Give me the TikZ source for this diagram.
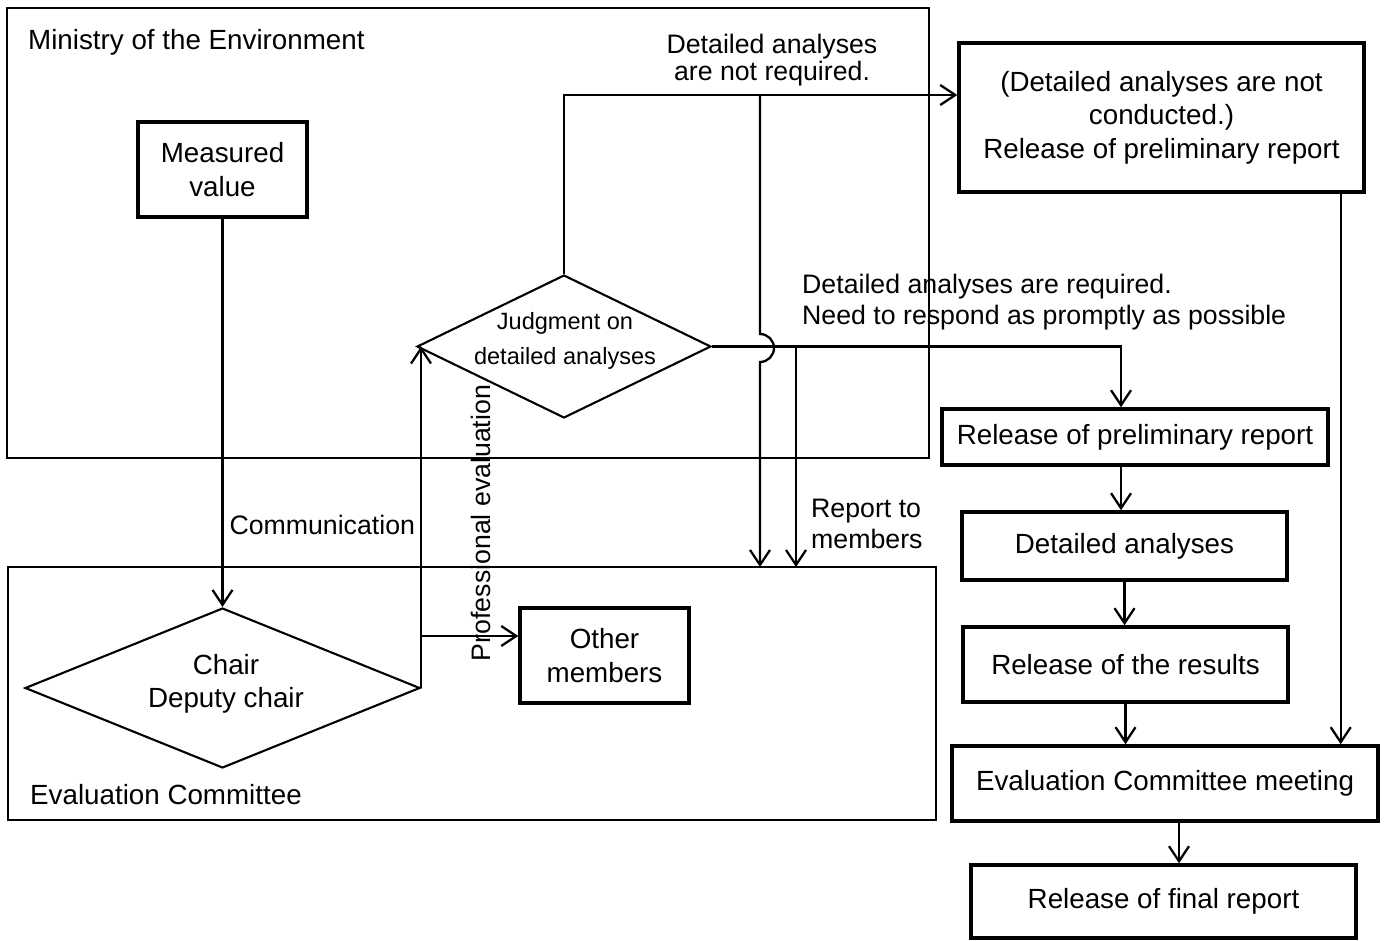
\documentclass[tikz,border=0pt]{standalone}
\usepackage{fontspec}
\setmainfont{Liberation Sans}
\usetikzlibrary{arrows.meta, positioning, calc, shapes.geometric}

\tikzset{
  frame/.style={draw, line width=0.7pt},
  stepbox/.style={draw, line width=2pt, align=center, inner sep=0pt,
    font=\fontsize{15.8pt}{19pt}\selectfont},
  decision/.style={draw, diamond, line width=1.2pt, inner sep=0pt},
  link/.style={line width=1.3pt, -{Straight Barb[length=3mm, width=4mm]}},
}

\begin{document}
\begin{tikzpicture}[x=0.02cm, y=-0.02cm,
    every node/.style={font=\fontsize{15.2pt}{18pt}\selectfont}]
        \useasboundingbox (0,0) rectangle (1386,940);
        % Frames
        \draw [frame] (7,8) rectangle (929,458);
        \draw [frame] (8,567) rectangle (936,820);
        \node [anchor=west, font=\fontsize{15.8pt}{19pt}\selectfont] (ministry) at (22,42) {Ministry of the Environment};
        \node [anchor=west, font=\fontsize{15.8pt}{19pt}\selectfont] (committee) at (24,795) {Evaluation Committee};

        % Left part
        \node [stepbox, minimum width=3.38cm, minimum height=1.9cm] (meas) at (222.5,169.5) {Measured\\value};
        \node [decision, minimum width=5.88cm, minimum height=2.86cm] (judge) at (564,346.5) {};
        \node [align=center, font=\fontsize{13.4pt}{20pt}\selectfont] (judgetxt) at (565,341) {Judgment on\\detailed analyses};
        \node [decision, minimum width=7.9cm, minimum height=3.2cm] (chair) at (222.5,688) {};
        \node [align=center, font=\fontsize{15.8pt}{19pt}\selectfont] (chairtxt) at (226,684) {Chair\\Deputy chair};
        \node [stepbox, minimum width=3.38cm, minimum height=1.9cm] (other) at (604.5,655.5) {Other\\members};

        % Right column
        \node [stepbox, minimum width=8.1cm, minimum height=2.98cm] (notdone) at (1161.5,117.5) {(Detailed analyses are not\\conducted.)\\Release of preliminary report};
        \node [stepbox, minimum width=7.72cm, minimum height=1.12cm] (prelim) at (1135,437) {Release of preliminary report};
        \node [stepbox, minimum width=6.5cm, minimum height=1.36cm] (detail) at (1124.5,546) {Detailed analyses};
        \node [stepbox, minimum width=6.5cm, minimum height=1.5cm] (results) at (1125.5,664.5) {Release of the results};
        \node [stepbox, minimum width=8.52cm, minimum height=1.5cm] (meeting) at (1165,783.5) {Evaluation Committee meeting};
        \node [stepbox, minimum width=7.7cm, minimum height=1.46cm] (final) at (1163.5,901.5) {Release of final report};

        % Helper points
        \coordinate (split) at (420,636);
        \coordinate (tapA) at (760,95);
        \coordinate (tapB) at (796,346.5);
        \coordinate (inA) at (760,567);
        \coordinate (inB) at (796,567);

        % Connectors
        \draw [link] (meas.south) -- (chair.north) node[pos=0.79, right=0pt] {Communication};
        \draw [link] (chair.east) -- (chair.east |- judge.west);
        \draw [link] (split) -- (split -| other.west);
        \node [rotate=90] (proflbl) at (481,523) {Professional evaluation};
        \draw [link] (judge.north) |- ([yshift=0.45cm]notdone.west);
        \node [align=center, font=\fontsize{15.2pt}{15.6pt}\selectfont] (notreq) at (772,60) {Detailed analyses\\are not required.};
        \draw [link] (tapA) -- (760,334) arc[start angle=90, end angle=-90, radius=0.28cm] -- (inA);
        \draw [link] (judge.east) -| ([xshift=-0.28cm]prelim.north);
        \node [align=left, anchor=west] (req) at (796,302) {Detailed analyses are required.\\Need to respond as promptly as possible};
        \draw [link] (tapB) -- (inB);
        \node [align=left, anchor=west] (report) at (805,524) {Report to\\members};
        \draw [link] ([xshift=-0.28cm]prelim.south) -- ([xshift=-0.28cm]prelim.south |- detail.north);
        \draw [link] (detail.south) -- (detail.south |- results.north);
        \draw [link] (results.south) -- (results.south |- meeting.north);
        \draw [link] ([xshift=0.28cm]meeting.south) -- ([xshift=0.28cm]meeting.south |- final.north);
        \draw [link] ([xshift=-0.5cm]notdone.south east) -- ([xshift=-0.5cm]notdone.south east |- meeting.north);
    \end{tikzpicture}
\end{document}
